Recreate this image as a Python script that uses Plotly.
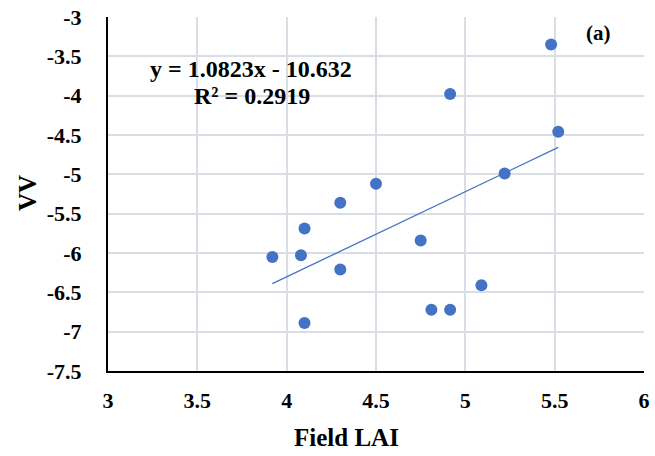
import plotly.graph_objects as go

# Data
field_lai = [3.92, 4.08, 4.10, 4.10, 4.30, 4.30, 4.50, 4.75, 4.81, 4.915, 5.09, 4.915, 5.48, 5.52, 5.22]
vv = [-6.05, -6.03, -5.69, -6.89, -5.36, -6.21, -5.12, -5.84, -6.72, -6.72, -6.41, -3.98, -3.35, -4.46, -4.99]

slope = 1.0823
intercept = -10.632
r2 = 0.2919

x_ticks = [3, 3.5, 4, 4.5, 5, 5.5, 6]
y_ticks = [-3, -3.5, -4, -4.5, -5, -5.5, -6, -6.5, -7, -7.5]

FONT = "Liberation Serif"
BLUE = "#4472C4"
GRID = "#D9DEE6"

W, H = 655, 456
L, R, T, B = 108, 11, 17, 85
PW = W - L - R
PH = H - T - B


def px(xp):
    return (xp - L) / PW


def py(yp):
    return 1 - (yp - T) / PH


xmin, xmax = min(field_lai), max(field_lai)
trend_x = [xmin, xmax]
trend_y = [slope * v + intercept for v in trend_x]

fig = go.Figure()
fig.add_trace(go.Scatter(x=trend_x, y=trend_y, mode="lines",
                         line=dict(color=BLUE, width=1.3), hoverinfo="skip"))
fig.add_trace(go.Scatter(x=field_lai, y=vv, mode="markers",
                         marker=dict(color=BLUE, size=12, line=dict(width=0))))

tickfont = dict(family=FONT, size=22, color="black")
fig.update_layout(
    width=W, height=H,
    margin=dict(l=L, r=R, t=T, b=B, autoexpand=False),
    paper_bgcolor="white", plot_bgcolor="white",
    showlegend=False,
    font=dict(family=FONT, color="black", size=20),
    xaxis=dict(range=[3, 6], tickvals=x_ticks, ticktext=[f"<b>{v:g}</b>" for v in x_ticks],
               showgrid=True, gridcolor=GRID, gridwidth=1.5,
               showline=True, linecolor="black", linewidth=2, zeroline=False,
               ticks="", ticklabelstandoff=9, automargin=False, tickfont=tickfont),
    yaxis=dict(range=[-7.5, -3], tickvals=y_ticks, ticktext=[f"<b>{v:g}</b>" for v in y_ticks],
               showgrid=True, gridcolor=GRID, gridwidth=1.5,
               showline=True, linecolor="black", linewidth=2, zeroline=False,
               ticks="", ticklabelstandoff=20, automargin=False, tickfont=tickfont),
)

ann_font = dict(family=FONT, size=24, color="black")
fig.add_annotation(xref="paper", yref="paper", x=px(251), y=py(69), xanchor="center", yanchor="middle",
                   text=f"<b>y = {slope}x - {abs(intercept)}</b>", showarrow=False, font=ann_font)
fig.add_annotation(xref="paper", yref="paper", x=px(252), y=py(96), xanchor="center", yanchor="middle",
                   text=f"<b>R² = {r2}</b>", showarrow=False, font=ann_font)
fig.add_annotation(xref="paper", yref="paper", x=px(598), y=py(33), xanchor="center", yanchor="middle",
                   text="<b>(a)</b>", showarrow=False, font=dict(family=FONT, size=21, color="black"))
fig.add_annotation(xref="paper", yref="paper", x=px(346), y=py(437), xanchor="center", yanchor="middle",
                   text="<b>Field LAI</b>", showarrow=False, font=dict(family=FONT, size=25, color="black"))
fig.add_annotation(xref="paper", yref="paper", x=px(27), y=py(193), xanchor="center", yanchor="middle",
                   text="<b>VV</b>", textangle=-90, showarrow=False,
                   font=dict(family=FONT, size=25, color="black"))

fig.write_html("out.html", config={"displayModeBar": False},
               post_script="document.body.style.margin='0';")
